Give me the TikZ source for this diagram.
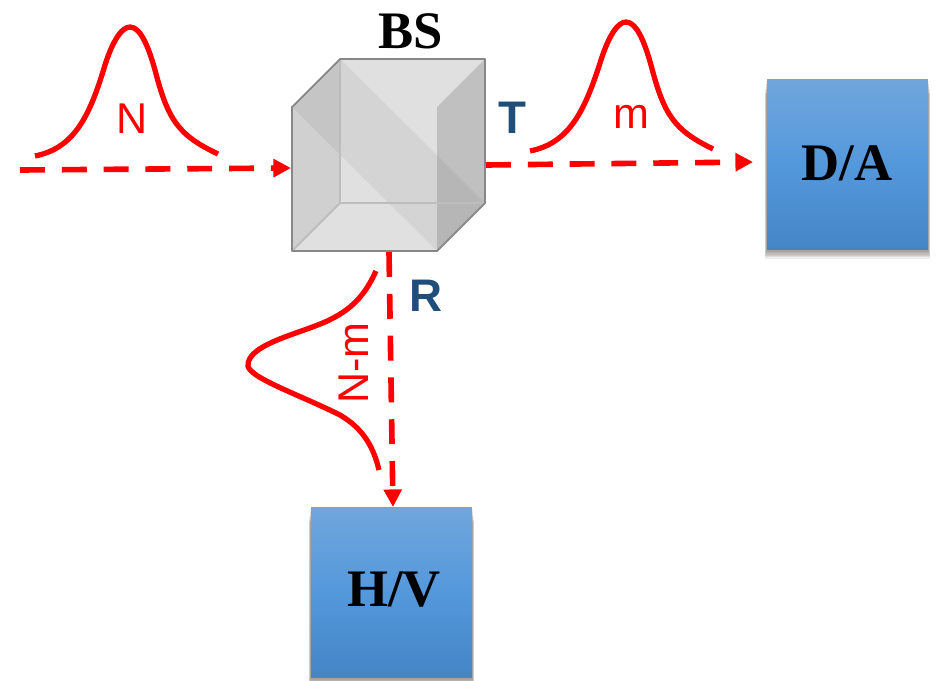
\documentclass[tikz,border=0pt]{standalone}
\usepackage{fontspec}
\setmainfont{Liberation Serif}
\setsansfont{Liberation Sans}
\usetikzlibrary{positioning}
\usetikzlibrary{backgrounds}
\usetikzlibrary{arrows.meta}
\definecolor{beamred}{RGB}{255,0,0}
\definecolor{portblue}{RGB}{31,78,121}
\definecolor{cubeline}{RGB}{135,135,135}
\definecolor{detectortop}{RGB}{112,166,220}
\definecolor{detectormid}{RGB}{84,152,220}
\definecolor{detectorbottom}{RGB}{68,133,197}
\tikzset{
	beam/.style={beamred, line width=3.2pt, dash pattern=on 14.2pt off 9.6pt, -{Triangle[length=10pt,width=10pt]}},
	pulse/.style={beamred, line width=3pt},
	pulselabel/.style={beamred, font=\sffamily\fontsize{24.5}{24.5}\selectfont, inner sep=0pt},
	portlabel/.style={portblue, font=\sffamily\bfseries\fontsize{26}{26}\selectfont, inner sep=0pt},
	boxlabel/.style={font=\rmfamily\bfseries\fontsize{30}{30}\selectfont, inner sep=0pt},
	detector/.style={
			minimum width=3.22cm,
			minimum height=3.42cm,
			inner sep=0pt,
			top color=detectortop,
			bottom color=detectorbottom,
			middle color=detectormid
		}
}

\begin{document}
\begin{tikzpicture}[x=0.02cm,y=-0.02cm]
		\useasboundingbox (0,0) rectangle (936,680);

		% Cube
		\fill[black!12] (292,107) -- (340,59) -- (485,59) -- (485,203) -- (437,251) -- (292,251) -- cycle;
		\fill[black, opacity=0.05] (340,59) -- (485,203) -- (437,251) -- (292,107) -- cycle;
		\fill[black, opacity=0.07] (292,107) -- (340,59) -- (340,203) -- (292,251) -- cycle;
		\fill[black, opacity=0.14] (437,107) -- (485,59) -- (485,203) -- (437,251) -- cycle;
		\draw[cubeline!55, line width=1.1pt] (340,59) -- (340,203) -- (485,203)
		(340,203) -- (292,251);
		\draw[cubeline, line width=1pt, line join=round] (292,107) -- (340,59) -- (485,59) -- (485,203)
		-- (437,251) -- (292,251) -- cycle;

		\node[boxlabel] (bs) at (411,31) {BS};

		% Boxes
		\node[detector] (da) at (847.5,164.5) {};
		\node[boxlabel] (dalabel) at (847,163) {D/A};
		\node[detector] (hv) at (391.5,592.5) {};
		\node[boxlabel] (hvlabel) at (394,590) {H/V};

		% Soft shadows
		\begin{scope}[on background layer]
			\foreach \boxname in {da,hv}
			\foreach \d in {1,...,6}
			\fill[black, opacity=0.07] ([xshift=-\d*0.2pt, yshift=-\d*1.5pt]\boxname.north west)
			rectangle ([xshift=\d*0.2pt, yshift=-\d*0.8pt]\boxname.south east);
		\end{scope}

		% Beam ends
		\coordinate (in) at (20,170);
		\coordinate (bswest) at (291,168);
		\coordinate (bseast) at (486,165);
		\coordinate (bssouth) at (389,252);
		\coordinate (daend) at (753,162);
		\coordinate (hvend) at (393,507);

		% Arrows
		\draw[beam] (in) -- (bswest);
		\draw[beam] (bseast) -- (daend);
		\draw[beam] (bssouth) -- (hvend);

		% Pulses
		\draw[pulse] (35,156) .. controls (75,148) and (90,115) .. (105,65)
		.. controls (113,40) and (122,27) .. (130,27)
		.. controls (140,27) and (148,45) .. (155,70)
		.. controls (168,120) and (178,135) .. (218,154);
		\draw[pulse] (530,151) .. controls (570,143) and (585,110) .. (601,60)
		.. controls (609,35) and (618,22) .. (626,22)
		.. controls (636,22) and (644,40) .. (651,65)
		.. controls (664,115) and (674,130) .. (713,149);
		\draw[pulse] (376,271) .. controls (365,295) and (352,310) .. (325,322)
		.. controls (295,335) and (247,345) .. (248,366)
		.. controls (250,378) and (300,395) .. (340,415)
		.. controls (362,428) and (373,445) .. (379,470);

		% Labels
		\node[pulselabel] (nlabel) at (132,119) {N};
		\node[pulselabel] (mlabel) at (631,117) {m};
		\node[pulselabel, rotate=90] (nmlabel) at (354,363) {N-m};
		\node[portlabel] (tlabel) at (512,118) {T};
		\node[portlabel] (rlabel) at (426,296) {R};
	\end{tikzpicture}
\end{document}
